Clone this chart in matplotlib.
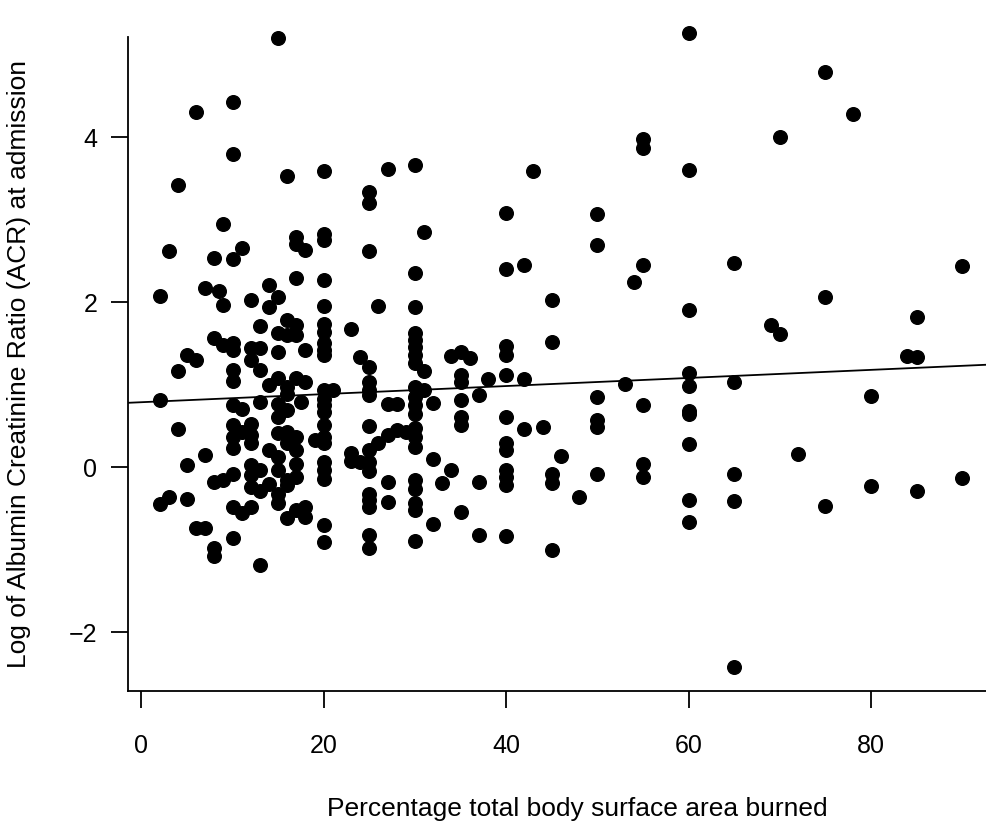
import matplotlib
matplotlib.use("Agg")
import matplotlib.pyplot as plt
import numpy as np

plt.rcParams['font.family'] = ['Liberation Sans', 'DejaVu Sans']

# ---- data ----
cols = {
    2: [2.08, 0.81, -0.45],
    3: [2.62, -0.36],
    4: [3.42, 1.16, 0.46],
    5: [1.36, 0.03, -0.38],
    6: [4.31, 1.30, -0.74],
    7: [2.17, 0.15, -0.74],
    8: [2.54, 1.57, -0.18, -0.98, -1.08],
    8.5: [2.14],
    9: [2.95, 1.96, 1.48, -0.15],
    10: [4.42, 3.79, 2.52, 1.50, 1.42, 1.18, 1.05, 0.75, 0.51, 0.37, 0.23, -0.08, -0.48, -0.86],
    11: [2.66, 0.71, 0.43, -0.56],
    12: [2.02, 1.44, 1.30, 0.52, 0.39, 0.29, 0.03, -0.10, -0.24, -0.48],
    13: [1.71, 1.44, 1.18, 0.79, -0.03, -0.29, -1.18],
    14: [2.21, 1.94, 0.99, 0.21, -0.21],
    15: [5.20, 2.06, 1.62, 1.40, 1.08, 0.77, 0.61, 0.41, 0.12, -0.04, -0.32, -0.44],
    16: [3.53, 1.78, 1.60, 0.97, 0.89, 0.69, 0.43, 0.29, -0.16, -0.22, -0.62],
    17: [2.79, 2.71, 2.29, 1.72, 1.60, 1.08, 0.37, 0.21, 0.04, -0.12, -0.52],
    17.5: [0.79],
    18: [2.63, 1.42, 1.03, -0.48, -0.60],
    19: [0.33],
    20: [3.59, 2.83, 2.75, 2.27, 1.95, 1.74, 1.64, 1.50, 1.42, 1.36, 0.93, 0.83, 0.75,
         0.67, 0.51, 0.37, 0.29, 0.06, -0.04, -0.14, -0.70, -0.91],
    21: [0.93],
    23: [1.68, 0.17, 0.08],
    24: [1.34, 0.06],
    25: [3.33, 3.20, 2.62, 1.21, 1.03, 0.93, 0.87, 0.50, 0.21, 0.06, -0.05, -0.32, -0.40,
         -0.48, -0.82, -0.98],
    26: [1.95, 0.29],
    27: [3.61, 0.77, 0.39, -0.18, -0.42],
    28: [0.77, 0.45],
    29: [0.43],
    30: [3.66, 2.35, 1.94, 1.62, 1.54, 1.46, 1.36, 1.26, 0.97, 0.85, 0.75, 0.65, 0.47, 0.37,
         0.25, -0.16, -0.26, -0.44, -0.52, -0.89],
    31: [2.85, 1.17, 0.93],
    32: [0.78, 0.10, -0.69],
    33: [-0.19],
    34: [1.35, -0.03],
    35: [1.40, 1.12, 1.03, 0.81, 0.61, 0.51, -0.54],
    36: [1.32],
    37: [0.88, -0.18, -0.82],
    38: [1.07],
    40: [3.08, 2.40, 1.47, 1.36, 1.12, 0.61, 0.29, 0.21, -0.04, -0.12, -0.22, -0.84],
    42: [2.45, 1.07, 0.46],
    43: [3.59],
    44: [0.49],
    45: [2.03, 1.52, -0.08, -0.19, -1.00],
    46: [0.13],
    48: [-0.36],
    50: [3.07, 2.69, 0.85, 0.57, 0.49, -0.08],
    53: [1.01],
    54: [2.25],
    55: [3.98, 3.87, 2.45, 0.75, 0.04, -0.12],
    60: [5.26, 3.60, 1.91, 1.14, 0.98, 0.68, 0.65, 0.28, -0.40, -0.67],
    65: [2.47, 1.03, -0.08, -0.41, -2.42],
    69: [1.72],
    70: [4.00, 1.61],
    72: [0.16],
    75: [4.79, 2.06, -0.47],
    78: [4.28],
    80: [0.86, -0.23],
    84: [1.35],
    85: [1.82, 1.33, -0.29],
    90: [2.44, -0.13],
}
tbsa = [k for k, v in cols.items() for _ in v]
log_acr = [y for v in cols.values() for y in v]

fit_intercept = 0.787
fit_slope = 0.0049

x_ticks = [0, 20, 40, 60, 80]
y_ticks = [-2, 0, 2, 4]
y_tick_labels = ['\u22122', '0', '2', '4']
x_label = "Percentage total body surface area burned"
y_label = "Log of Albumin Creatinine Ratio (ACR) at admission"

# ---- figure ----
fig = plt.figure(figsize=(9.87, 8.23), dpi=100)
ax = fig.add_axes([0.1297, 0.1607, 0.8703, 0.794])
ax.plot(tbsa, log_acr, 'o', color='black', ms=9.8, clip_on=False, zorder=3)

xlim = (-1.46, 92.73)
xs = np.array(xlim)
ax.plot(xs, fit_intercept + fit_slope * xs, color='black', lw=1.3, zorder=4)
ax.set_xlim(*xlim)
ax.set_ylim(-2.71, 5.21)

ax.spines['top'].set_visible(False)
ax.spines['right'].set_visible(False)
for s in ('left', 'bottom'):
    ax.spines[s].set_linewidth(1.3)
ax.set_xticks(x_ticks)
ax.set_yticks(y_ticks)
ax.set_yticklabels(y_tick_labels)
ax.tick_params(axis='both', length=12, width=1.3, labelsize=18, color='black')
ax.tick_params(axis='x', pad=19)
ax.tick_params(axis='y', pad=10)

ax.set_xlabel(x_label, fontsize=19)
ax.xaxis.set_label_coords(0.523, -0.162)
ax.set_ylabel(y_label, fontsize=19, labelpad=27)

fig.savefig('out.png', dpi=100)
